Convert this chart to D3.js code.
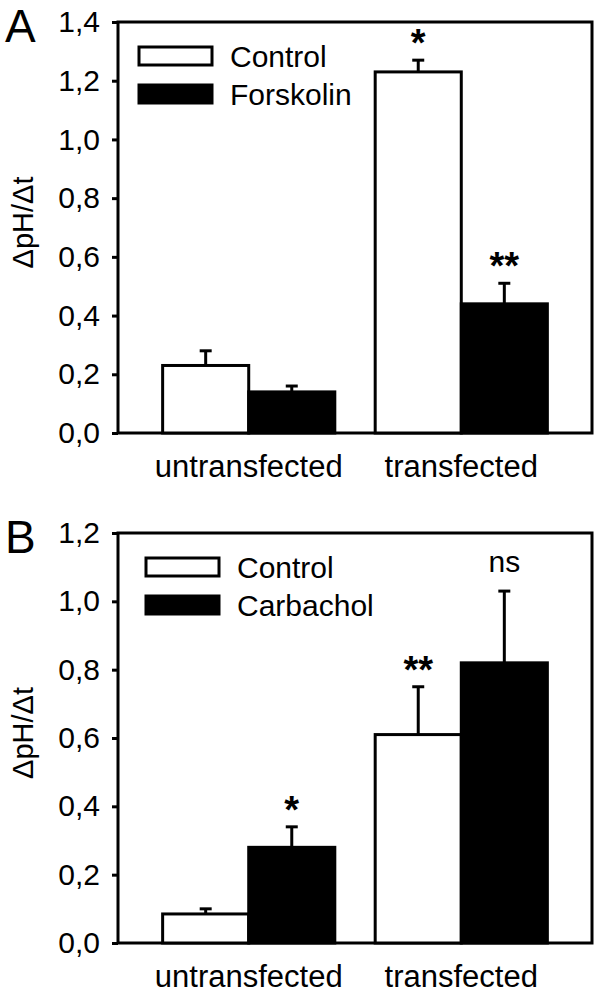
<!DOCTYPE html>
<html>
<head>
<meta charset="utf-8">
<script src="https://cdn.jsdelivr.net/npm/d3@7"></script>
<style>
html,body{margin:0;padding:0;background:#fff;}
svg{display:block;font-family:"Liberation Sans",Arial,sans-serif;}
</style>
</head>
<body>
<svg id="chart" width="600" height="997"></svg>
<script>
// ---- data ----
const categories = ["untransfected", "transfected"];

const seriesA = ["Control", "Forskolin"];
const controlA = [0.23, 1.23];
const controlAErr = [0.05, 0.04];
const forskolinA = [0.14, 0.44];
const forskolinAErr = [0.02, 0.07];
const controlAMarks = ["", "*"];
const forskolinAMarks = ["", "**"];
const ticksA = [0, 0.2, 0.4, 0.6, 0.8, 1.0, 1.2, 1.4];

const seriesB = ["Control", "Carbachol"];
const controlB = [0.085, 0.61];
const controlBErr = [0.015, 0.14];
const carbacholB = [0.28, 0.82];
const carbacholBErr = [0.06, 0.21];
const controlBMarks = ["", "**"];
const carbacholBMarks = ["*", "ns"];
const ticksB = [0, 0.2, 0.4, 0.6, 0.8, 1.0, 1.2];

const yTitle = "ΔpH/Δt";

// ---- drawing ----
const svg = d3.select("#chart");
const fmt = v => d3.format(".1f")(v).replace(".", ",");

function panel(opt) {
  const g = svg.append("g");
  const left = 118, right = 592;
  const y = d3.scaleLinear().domain([0, opt.ymax]).range([opt.bottom, opt.top]);
  const x = d3.scaleBand().domain(categories).range([left, right])
    .paddingInner(0.19).paddingOuter(0.21);
  const sub = d3.scaleBand().domain([0, 1]).range([0, x.bandwidth()]);

  // y axis
  const yAxis = d3.axisLeft(y).tickValues(opt.ticks).tickFormat(fmt)
    .tickSize(6).tickPadding(12);
  const ya = g.append("g").attr("transform", `translate(${left},0)`).call(yAxis);
  ya.select(".domain").remove();
  ya.selectAll(".tick line").attr("stroke", "#000").attr("stroke-width", 3);
  ya.selectAll(".tick text").attr("font-size", 30).attr("fill", "#000")
    .attr("font-family", "Liberation Sans, Arial, sans-serif");

  // frame
  g.append("rect").attr("x", left).attr("y", opt.top)
    .attr("width", right - left).attr("height", opt.bottom - opt.top)
    .attr("fill", "none").attr("stroke", "#000").attr("stroke-width", 3);

  // x axis labels
  const xAxis = d3.axisBottom(x).tickSize(0).tickPadding(22);
  const xa = g.append("g").attr("transform", `translate(0,${opt.bottom})`).call(xAxis);
  xa.select(".domain").remove();
  xa.selectAll(".tick text").attr("font-size", 31).attr("fill", "#000")
    .attr("font-family", "Liberation Sans, Arial, sans-serif");

  const series = [
    {vals: opt.s0, err: opt.e0, marks: opt.m0, fill: "#fff"},
    {vals: opt.s1, err: opt.e1, marks: opt.m1, fill: "#000"}
  ];
  series.forEach((s, si) => {
    categories.forEach((c, ci) => {
      const x0 = x(c) + sub(si), w = sub.bandwidth();
      const cx = x0 + w / 2;
      const top = y(s.vals[ci] + s.err[ci]);
      // error bar
      g.append("line").attr("x1", cx).attr("x2", cx)
        .attr("y1", y(s.vals[ci])).attr("y2", top)
        .attr("stroke", "#000").attr("stroke-width", 3);
      g.append("line").attr("x1", cx - 6).attr("x2", cx + 6)
        .attr("y1", top).attr("y2", top)
        .attr("stroke", "#000").attr("stroke-width", 3);
      g.append("rect").attr("x", x0).attr("y", y(s.vals[ci]))
        .attr("width", w).attr("height", opt.bottom - y(s.vals[ci]))
        .attr("fill", s.fill).attr("stroke", "#000").attr("stroke-width", 3);
      const m = s.marks[ci];
      if (m) {
        const isStar = m.indexOf("*") >= 0;
        g.append("text").attr("x", cx).attr("y", top - (isStar ? 4 : 19))
          .attr("text-anchor", "middle")
          .attr("font-size", isStar ? 38 : 30)
          .attr("font-weight", isStar ? "bold" : "normal")
          .text(m);
      }
    });
  });

  // legend
  opt.names.forEach((n, i) => {
    const ly = opt.legY + i * 38;
    g.append("rect").attr("x", opt.legX).attr("y", ly)
      .attr("width", 73).attr("height", 18)
      .attr("fill", i === 0 ? "#fff" : "#000")
      .attr("stroke", "#000").attr("stroke-width", 3);
    g.append("text").attr("x", opt.legX + 91).attr("y", ly + 9)
      .attr("dy", "0.35em").attr("font-size", 30).text(n);
  });

  // y title
  g.append("text")
    .attr("transform", `translate(${opt.titleX},${(opt.top + opt.bottom) / 2 - 5}) rotate(-90)`)
    .attr("text-anchor", "middle").attr("dy", "0.35em")
    .attr("font-size", 29).text(yTitle);

  // panel letter
  g.append("text").attr("x", 5).attr("y", opt.letterY)
    .attr("font-size", 46).text(opt.letter);
}

panel({letter: "A", letterY: 42, top: 22, bottom: 433, ymax: 1.4, ticks: ticksA,
  s0: controlA, e0: controlAErr, m0: controlAMarks,
  s1: forskolinA, e1: forskolinAErr, m1: forskolinAMarks,
  names: seriesA, legX: 139, legY: 47, titleX: 23});

panel({letter: "B", letterY: 553, top: 533, bottom: 943, ymax: 1.2, ticks: ticksB,
  s0: controlB, e0: controlBErr, m0: controlBMarks,
  s1: carbacholB, e1: carbacholBErr, m1: carbacholBMarks,
  names: seriesB, legX: 146, legY: 558, titleX: 23});
</script>
</body>
</html>
